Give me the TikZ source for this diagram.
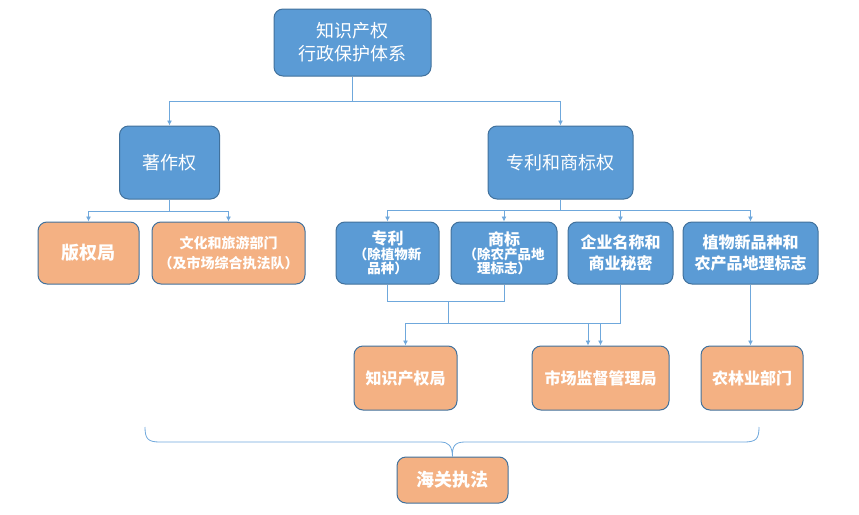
\documentclass[tikz,border=0pt]{standalone}
\usepackage{fontspec}
\setmainfont{Noto Sans CJK SC}
\usetikzlibrary{arrows.meta,calc}
\definecolor{bfill}{HTML}{5B9BD5}
\definecolor{ofill}{HTML}{F4B183}
\definecolor{bord}{HTML}{41719C}
\definecolor{lnk}{HTML}{6FA8DC}
\tikzset{
  box/.style={draw=bord, line width=1pt, rounded corners=9pt, text=white, align=center, inner sep=2pt},
  bluebox/.style={box, fill=bfill},
  orbox/.style={box, fill=ofill, font=\bfseries\fontsize{16}{20}\selectfont},
  conn/.style={draw=lnk, line width=0.8pt},
  arr/.style={conn, -{Latex[length=5pt,width=5pt]}},
}
\begin{document}
\begin{tikzpicture}[x=1pt,y=-1pt]
\useasboundingbox (0,0) rectangle (859,514);
% level 0
\node[bluebox, minimum width=157, minimum height=67, font=\fontsize{18}{23}\selectfont] (top) at (352.5,42.5) {知识产权\\行政保护体系};
% level 1
\node[bluebox, minimum width=100, minimum height=73, font=\fontsize{18}{22}\selectfont] (zzq) at (169.5,162.5) {著作权};
\node[bluebox, minimum width=145, minimum height=73, font=\fontsize{18}{22}\selectfont] (zlsb) at (560.5,162.5) {专利和商标权};
% level 2
\node[orbox, minimum width=101, minimum height=62, font=\bfseries\fontsize{18}{22}\selectfont] (bqj) at (88.5,253) {版权局};
\node[orbox, minimum width=153, minimum height=62, font=\bfseries\fontsize{14}{20}\selectfont] (whly) at (228.5,253) {文化和旅游部门\\（及市场综合执法队）};
\node[bluebox, minimum width=103, minimum height=62, font=\bfseries] (zl) at (387.5,253) {{\fontsize{16}{17}\selectfont 专利}\\{\fontsize{13.5}{17}\selectfont （除植物新}\\{\fontsize{13.5}{17}\selectfont 品种）}};
\node[bluebox, minimum width=106, minimum height=62, font=\bfseries] (sb) at (504,253) {{\fontsize{16}{17}\selectfont 商标}\\{\fontsize{13.5}{17}\selectfont （除农产品地}\\{\fontsize{13.5}{17}\selectfont 理标志）}};
\node[bluebox, minimum width=105, minimum height=62, font=\bfseries\fontsize{16}{21}\selectfont] (qy) at (620.5,253) {企业名称和\\商业秘密};
\node[bluebox, minimum width=135, minimum height=62, font=\bfseries\fontsize{16}{21}\selectfont] (zw) at (750.5,253) {植物新品种和\\农产品地理标志};
% level 3
\node[orbox, minimum width=103, minimum height=64] (zscq) at (405.5,378) {知识产权局};
\node[orbox, minimum width=137, minimum height=64] (scjd) at (600.5,378) {市场监督管理局};
\node[orbox, minimum width=102, minimum height=64] (nly) at (752,378) {农林业部门};
% customs
\node[orbox, minimum width=111, minimum height=46, font=\bfseries\fontsize{18}{22}\selectfont] (hg) at (452.5,480) {海关执法};
% connectors
\draw[arr] (top.south) -- ++(0,25) -| (zzq.north);
\draw[arr] (top.south) -- ++(0,25) -| (zlsb.north);
\draw[arr] (zzq.south) -- ++(0,12) -| (bqj.north);
\draw[arr] (zzq.south) -- ++(0,12) -| (whly.north);
\draw[arr] (zlsb.south) -- ++(0,11) -| (zl.north);
\draw[arr] (zlsb.south) -- ++(0,11) -| (sb.north);
\draw[arr] (zlsb.south) -- ++(0,11) -| (qy.north);
\draw[arr] (zlsb.south) -- ++(0,11) -| (zw.north);
\draw[conn] (zl.south) -- ++(0,17) -| (sb.south);
\coordinate (mj) at (448,301);
\coordinate (mj2) at (448,323);
\draw[conn] (mj) -- (mj2);
\draw[arr] (mj2) -| (zscq.north);
\draw[arr] (mj2) -| (scjd.north);
\draw[arr] (qy.south) -- ++(0,39) -| ([xshift=-12.5pt]scjd.north);
\draw[arr] (zw.south) -- (zw.south |- nly.north);
% brace
\draw[conn] (145,427) .. controls (145,439) and (148,442) .. (160,442) -- (440,442)
  .. controls (449,442) and (452,446) .. (hg.north)
  .. controls (452,446) and (455,442) .. (465,442) -- (744,442)
  .. controls (756,442) and (759,439) .. (759,427);
\end{tikzpicture}
\end{document}
